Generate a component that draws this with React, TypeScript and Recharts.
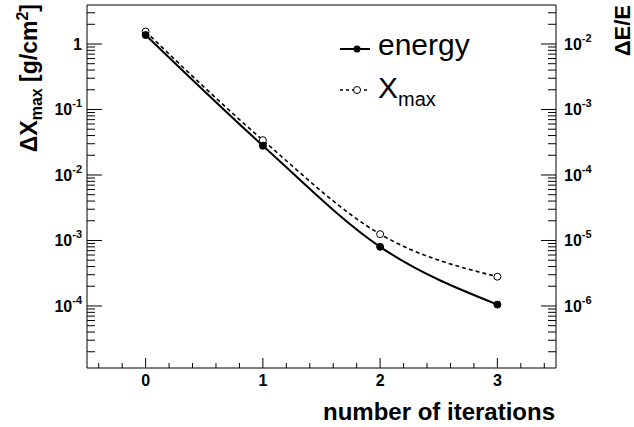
import React from 'react';
import { LineChart, Line, XAxis, YAxis, Legend, Label } from 'recharts';

const FONT = '"Liberation Sans", Arial, Helvetica, sans-serif';

// values
const iterations = [0, 1, 2, 3];
const xmaxDelta = [1.55, 0.034, 1.25e-3, 2.8e-4]; // ΔXmax [g/cm2], left axis
const energyRel = [1.37e-2, 2.8e-4, 8.0e-6, 1.05e-6]; // ΔE/E, right axis

// axis ranges and ticks
const xDomain = [-0.5, 3.5];
const xTicks = [-0.4, -0.2, 0, 0.2, 0.4, 0.6, 0.8, 1, 1.2, 1.4, 1.6, 1.8, 2, 2.2, 2.4, 2.6, 2.8, 3, 3.2, 3.4];
const leftDomain = [1.13e-5, 3.94];
const rightDomain = [1.13e-7, 3.94e-2];
const leftDecades = [-5, -4, -3, -2, -1, 0];
const rightDecades = [-7, -6, -5, -4, -3, -2];
const mantissas = [1, 2, 3, 4, 5, 6, 7, 8, 9];

const logTicks = (decades: number[], dom: number[]) =>
  decades
    .flatMap((d) => mantissas.map((m) => m * Math.pow(10, d)))
    .filter((v) => v >= dom[0] && v <= dom[1]);

const leftTicks = logTicks(leftDecades, leftDomain);
const rightTicks = logTicks(rightDecades, rightDomain);

const data = iterations.map((it, i) => ({
  it,
  xmax: xmaxDelta[i],
  energy: energyRel[i],
}));

const isDecade = (v: number) => {
  const l = Math.log10(v);
  return Math.abs(l - Math.round(l)) < 1e-6;
};

const PowerLabel = ({ x, y, v, anchor }: any) => {
  const e = Math.round(Math.log10(v));
  if (e === 0) {
    return (
      <text x={x} y={y} textAnchor={anchor} fontFamily={FONT} fontWeight="bold" fontSize={16} fill="#000">
        1
      </text>
    );
  }
  return (
    <text x={x} y={y} textAnchor={anchor} fontFamily={FONT} fontWeight="bold" fontSize={16} fill="#000">
      <tspan>10</tspan>
      <tspan dy={-8} fontSize={11}>{e}</tspan>
    </text>
  );
};

const LeftTick = (props: any) => {
  const { x, y, payload } = props;
  const major = isDecade(payload.value);
  return (
    <g>
      <line x1={x} x2={x + (major ? 15 : 8)} y1={y} y2={y} stroke="#000" strokeWidth={1} />
      {major && <PowerLabel x={x - 5} y={y + 6} v={payload.value} anchor="end" />}
    </g>
  );
};

const RightTick = (props: any) => {
  const { x, y, payload } = props;
  const major = isDecade(payload.value);
  return (
    <g>
      <line x1={x} x2={x - (major ? 15 : 8)} y1={y} y2={y} stroke="#000" strokeWidth={1} />
      {major && <PowerLabel x={x + 8} y={y + 6} v={payload.value} anchor="start" />}
    </g>
  );
};

const BottomTick = (props: any) => {
  const { x, y, payload } = props;
  const major = Number.isInteger(payload.value);
  return (
    <g>
      <line x1={x} x2={x} y1={y} y2={y - (major ? 10 : 5)} stroke="#000" strokeWidth={1} />
      {major && (
        <text x={x} y={y + 18} textAnchor="middle" fontFamily={FONT} fontWeight="bold" fontSize={16} fill="#000">
          {payload.value}
        </text>
      )}
    </g>
  );
};

const renderLegend = () => (
  <svg width={170} height={90} style={{ display: 'block' }}>
    <line x1={5} x2={35} y1={21} y2={21} stroke="#000" strokeWidth={2} />
    <circle cx={22} cy={21} r={3.5} fill="#000" />
    <text x={43} y={27} fontFamily={FONT} fontSize={30} fill="#000">energy</text>
    <line x1={5} x2={35} y1={62} y2={62} stroke="#000" strokeWidth={1.5} strokeDasharray="3 3" />
    <circle cx={22} cy={62} r={3.5} fill="#fff" stroke="#000" strokeWidth={1} />
    <text x={43} y={70} fontFamily={FONT} fontSize={30} fill="#000">
      <tspan>X</tspan>
      <tspan dy={8} fontSize={20}>max</tspan>
    </text>
  </svg>
);

export default function App() {
  return (
    <div style={{ position: 'absolute', left: 0, top: 0, width: 634, height: 427, background: '#fff' }}>
      <LineChart width={634} height={427} data={data} margin={{ top: 0, right: 0, bottom: 0, left: 0 }}>
        <XAxis xAxisId="top" orientation="top" dataKey="it" type="number" domain={xDomain} height={5}
          tick={false} tickLine={false} axisLine={{ stroke: '#000', strokeWidth: 1 }} />
        <XAxis dataKey="it" type="number" domain={xDomain} ticks={xTicks} interval={0} height={59}
          tickSize={0} tickMargin={0} tickLine={false} tick={<BottomTick />}
          axisLine={{ stroke: '#000', strokeWidth: 1 }} allowDataOverflow>
          <Label
            content={() => (
              <text x={555} y={420} textAnchor="end" fontFamily={FONT} fontWeight="bold" fontSize={24} fill="#000">
                number of iterations
              </text>
            )}
          />
        </XAxis>
        <YAxis yAxisId="left" orientation="left" scale="log" domain={leftDomain} ticks={leftTicks} interval={0}
          width={87} tickSize={0} tickMargin={0} tickLine={false} tick={<LeftTick />}
          axisLine={{ stroke: '#000', strokeWidth: 1 }} allowDataOverflow>
          <Label
            content={() => (
              <text x={37} y={4} transform="rotate(-90 37 4)" textAnchor="end" fontFamily={FONT} fontWeight="bold" fontSize={23} fill="#000">
                <tspan>ΔX</tspan>
                <tspan dy={5} fontSize={16}>max</tspan>
                <tspan dy={-5}> [g/cm</tspan>
                <tspan dy={-9} fontSize={16}>2</tspan>
                <tspan dy={9}>]</tspan>
              </text>
            )}
          />
        </YAxis>
        <YAxis yAxisId="right" orientation="right" scale="log" domain={rightDomain} ticks={rightTicks} interval={0}
          width={78} tickSize={0} tickMargin={0} tickLine={false} tick={<RightTick />}
          axisLine={{ stroke: '#000', strokeWidth: 1 }} allowDataOverflow>
          <Label
            content={() => (
              <text x={630} y={5} transform="rotate(-90 630 5)" textAnchor="end" fontFamily={FONT} fontWeight="bold" fontSize={22} fill="#000">
                ΔE/E
              </text>
            )}
          />
        </YAxis>
        <Legend layout="horizontal" verticalAlign="middle" align="center" content={renderLegend}
          wrapperStyle={{ position: 'absolute', left: 335, top: 28, width: 170, height: 90 }} />
        <Line yAxisId="left" dataKey="xmax" name="Xmax" type="monotone" stroke="#000" strokeWidth={1.6}
          strokeDasharray="4 3" dot={{ r: 3.5, fill: '#fff', stroke: '#000', strokeWidth: 1, strokeDasharray: '' }}
          isAnimationActive={false} />
        <Line yAxisId="right" dataKey="energy" name="energy" type="monotone" stroke="#000" strokeWidth={2}
          dot={{ r: 3.5, fill: '#000', stroke: '#000', strokeWidth: 1 }} isAnimationActive={false} />
      </LineChart>
    </div>
  );
}
